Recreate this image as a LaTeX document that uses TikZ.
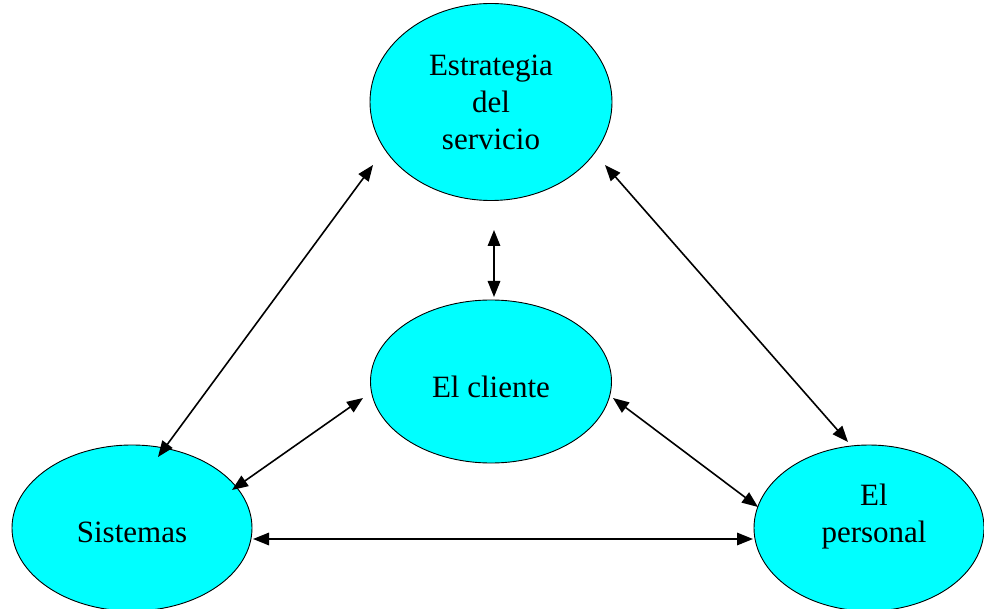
\documentclass[tikz,border=0pt]{standalone}
\usepackage{fontspec}
\setmainfont{Liberation Serif}
\usetikzlibrary{shapes.geometric,arrows.meta,calc}
\definecolor{bubblecyan}{RGB}{0,255,255}
\tikzset{
  bubble/.style={ellipse, draw=black, line width=0.9pt, fill=bubblecyan, inner sep=0pt},
  txt/.style={align=center, inner sep=0pt, font=\fontsize{31}{37}\selectfont},
  link/.style={line width=1.6pt, {Triangle[length=16pt,width=12.5pt]}-{Triangle[length=16pt,width=12.5pt]}}
}
\begin{document}
\begin{tikzpicture}[x=1pt,y=-1pt]
\useasboundingbox (0,0) rectangle (984,609);
\clip (0,0) rectangle (984,609);
\node[bubble, minimum width=242pt, minimum height=197pt] (top) at (491,102) {};
\node[bubble, minimum width=241pt, minimum height=163pt] (mid) at (491,381.5) {};
\node[bubble, minimum width=240pt, minimum height=166pt] (left) at (132,528) {};
\node[bubble, minimum width=230pt, minimum height=166pt] (right) at (869,528) {};
\node[txt] (toptext) at (top) {Estrategia\\del\\servicio};
\node[txt] (midtext) at ($(mid)+(0,5)$) {El cliente};
\node[txt] (lefttext) at ($(left)+(0,4)$) {Sistemas};
\node[txt] (righttext) at ($(right)+(5,-11)$) {El\\personal};
\draw[link] ($(top)+(-118,63)$) -- ($(left)+(26,-71)$);
\draw[link] ($(top)+(114,63)$) -- ($(right)+(-21,-86)$);
\draw[link] ($(top)+(3,128)$) -- ($(mid)+(3,-84.5)$);
\draw[link] ($(mid)+(-128,16.5)$) -- ($(left)+(100,-38)$);
\draw[link] ($(mid)+(122,16.5)$) -- ($(right)+(-111,-21)$);
\draw[link] ($(left)+(121,11)$) -- ($(right)+(-116,11)$);
\end{tikzpicture}
\end{document}
